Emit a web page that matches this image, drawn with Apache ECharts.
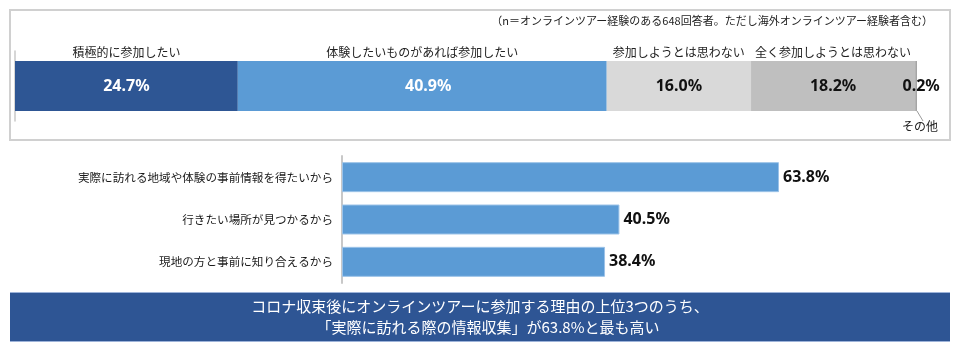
<!DOCTYPE html>
<html><head><meta charset="utf-8">
<script src="https://cdn.jsdelivr.net/npm/echarts@6/dist/echarts.min.js"></script>
<style>html,body{margin:0;padding:0;background:#fff}#c{width:960px;height:350px}</style>
</head><body><div id="c"></div>
<script>
// ---- data ----
const topNames = ['積極的に参加したい','体験したいものがあれば参加したい','参加しようとは思わない','全く参加しようとは思わない','その他'];
const topValues = [24.7, 40.9, 16.0, 18.2, 0.2];
const topColors = ['#2E5694','#5B9BD5','#D9D9D9','#BFBFBF','#A5A5A5'];
const topLabelColors = ['#fff','#fff','#111','#111','#111'];
const reasonCats = ['実際に訪れる地域や体験の事前情報を得たいから','行きたい場所が見つかるから','現地の方と事前に知り合えるから'];
const reasonValues = [63.8, 40.5, 38.4];
const noteText = '（n＝オンラインツアー経験のある648回答者。ただし海外オンラインツアー経験者含む）';
const bannerLines = ['コロナ収束後にオンラインツアーに参加する理由の上位3つのうち、','「実際に訪れる際の情報収集」が63.8%と最も高い'];

const FONT = '"Noto Sans CJK JP","Noto Sans",sans-serif';
const NUMFONT = '"Noto Sans","Noto Sans CJK JP",sans-serif';

const chart = echarts.init(document.getElementById('c'), null, {renderer:'canvas'});

const series = [];
// main stacked bar (grid 0)
topValues.forEach((v,i)=>{
  series.push({
    type:'bar', name: topNames[i], stack:'main', xAxisIndex:0, yAxisIndex:0,
    data:[v], barWidth:50, itemStyle:{color:topColors[i]},
    label:{show:true, position:'inside', offset: i===4?[5,0]:(i===1?[6,0]:[0,0]),
      formatter: p=>p.value.toFixed(1)+'%', color: topLabelColors[i],
      fontFamily:NUMFONT, fontWeight:'bold', fontSize:16}
  });
});
// name labels above segments (grid 1, transparent bars)
topValues.forEach((v,i)=>{
  series.push({
    type:'bar', name: topNames[i], stack:'names', xAxisIndex:1, yAxisIndex:1,
    data:[v], barWidth:14, itemStyle:{color:'rgba(0,0,0,0)'}, silent:true,
    label:{show:i<4, position:'inside', formatter:'{a}', color:'#222', fontFamily:FONT, fontSize:12}
  });
});
// reasons bar (grid 2)
series.push({
  type:'bar', xAxisIndex:2, yAxisIndex:2, data:reasonValues, barWidth:30,
  itemStyle:{color:'#5B9BD5', borderColor:'#9CC3E8', borderWidth:1},
  label:{show:true, position:'right', distance:4, formatter:p=>p.value.toFixed(1)+'%',
    color:'#111', fontFamily:NUMFONT, fontWeight:'bold', fontSize:16}
});

chart.setOption({
  animation:false,
  textStyle:{fontFamily:FONT},
  grid:[
    {left:15, top:51, width:902, height:70},
    {left:15, top:44, width:902, height:16},
    {left:342, top:156, width:548, height:127}
  ],
  xAxis:[
    {gridIndex:0, type:'value', min:0, max:100, show:false},
    {gridIndex:1, type:'value', min:0, max:100, show:false},
    {gridIndex:2, type:'value', min:0, max:80, show:false}
  ],
  yAxis:[
    {gridIndex:0, type:'category', data:['a'], axisLine:{show:true, lineStyle:{color:'#C8C8C8', width:1.5}},
      axisTick:{show:false}, axisLabel:{show:false}},
    {gridIndex:1, type:'category', data:['a'], show:false},
    {gridIndex:2, type:'category', data:reasonCats, inverse:true,
      axisLine:{show:true, lineStyle:{color:'#C8C8C8', width:2}}, axisTick:{show:false},
      axisLabel:{color:'#1a1a1a', fontSize:11.6, margin:9, fontFamily:FONT}}
  ],
  series: series,
  graphic:[
    {type:'rect', z:-1, shape:{x:10, y:10, width:940, height:130}, style:{fill:'none', stroke:'#D0D0D0', lineWidth:2}},
    {type:'text', x:933, y:21, style:{text:noteText, align:'right', verticalAlign:'middle', fill:'#222', font:'11px '+FONT}},
    {type:'line', shape:{x1:917, y1:111, x2:923, y2:121}, style:{stroke:'#9A9A9A', lineWidth:1}},
    {type:'text', x:920, y:126, style:{text:'その他', align:'center', verticalAlign:'middle', fill:'#222', font:'12px '+FONT}},
    {type:'rect', shape:{x:10, y:292, width:940, height:50}, style:{fill:'#2E5594'}},
    {type:'line', shape:{x1:10, y1:292.5, x2:950, y2:292.5}, style:{stroke:'#9DB3D9', lineWidth:1}},
    {type:'line', shape:{x1:10, y1:341.5, x2:950, y2:341.5}, style:{stroke:'#9DB3D9', lineWidth:1}},
    {type:'text', x:480, y:306, style:{text:bannerLines[0], align:'center', verticalAlign:'middle', fill:'#fff', font:'15px '+FONT}},
    {type:'text', x:488, y:327, style:{text:bannerLines[1], align:'center', verticalAlign:'middle', fill:'#fff', font:'15px '+FONT}}
  ]
});
</script></body></html>
